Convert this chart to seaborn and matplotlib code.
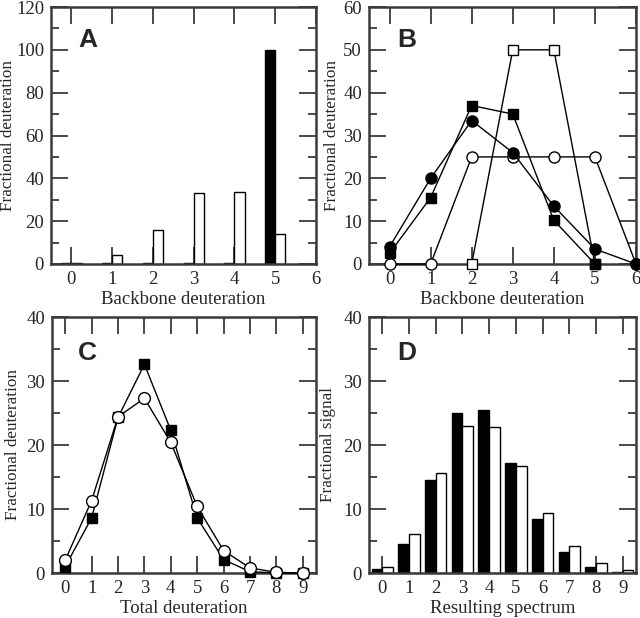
import numpy as np
import pandas as pd
import matplotlib
matplotlib.use("Agg")
import matplotlib.pyplot as plt
from matplotlib.ticker import MultipleLocator
import seaborn as sns

sns.set_theme(style="ticks")
plt.rcParams['font.family'] = ['Liberation Serif', 'DejaVu Serif']

# Panel A: backbone deuteration distributions (bars)
a_x = [0, 1, 2, 3, 4, 5]
a_black = [0.3, 0.3, 0.3, 0.3, 0.3, 100.0]
a_white = [0.3, 4.0, 16.0, 33.0, 33.5, 14.0]

# Panel B: backbone deuteration (lines)
b_x = [0, 1, 2, 3, 4, 5, 6]
b_filled_circle = [4.0, 20.0, 33.5, 26.0, 13.5, 3.5, 0.0]
b_filled_square_x = [0, 1, 2, 3, 4, 5]
b_filled_square = [2.5, 15.5, 37.0, 35.0, 10.2, 0.0]
b_open_circle = [0.0, 0.0, 25.0, 25.0, 25.0, 25.0, 0.0]
b_open_square_x = [2, 3, 4, 5]
b_open_square = [0.0, 50.0, 50.0, 0.0]

# Panel C: total deuteration
c_x = [0, 1, 2, 3, 4, 5, 6, 7, 8, 9]
c_square = [1.0, 8.6, 24.3, 32.6, 22.3, 8.6, 2.1, 0.2, 0.0, 0.0]
c_circle = [2.0, 11.3, 24.4, 27.3, 20.4, 10.4, 3.5, 0.8, 0.1, 0.0]

# Panel D: resulting spectrum
d_x = [0, 1, 2, 3, 4, 5, 6, 7, 8, 9]
d_black = [0.6, 4.6, 14.6, 25.0, 25.4, 17.2, 8.5, 3.3, 1.0, 0.2]
d_white = [1.0, 6.1, 15.7, 22.9, 22.8, 16.7, 9.3, 4.2, 1.5, 0.5]

W, H = 640, 618
fig = plt.figure(figsize=(W / 100, H / 100), dpi=100)

def add_ax(l, t, r, b):
    return fig.add_axes([l / W, 1 - b / H, (r - l) / W, (b - t) / H])

axA = add_ax(51, 7, 316, 264)
axB = add_ax(369, 7, 636, 264)
axC = add_ax(52, 317, 316, 573)
axD = add_ax(369, 317, 636, 573)

SP = '#3a3a3a'
FS = 13.5

def style(ax, xmax, xticks, ymax, ymaj, ymin, xlabel, ylabel, letter, lpos, ylx):
    ax.set_xlim(-0.5, xmax)
    ax.set_ylim(0, ymax)
    ax.set_xticks(xticks)
    ax.set_xticklabels([str(t) for t in xticks])
    ax.yaxis.set_major_locator(MultipleLocator(ymaj))
    ax.yaxis.set_minor_locator(MultipleLocator(ymin))
    ax.tick_params(axis='both', which='major', direction='in', length=12, width=1.3,
                   color=SP, top=True, right=True, labelsize=FS, pad=5)
    ax.tick_params(axis='y', which='minor', direction='in', length=6, width=1.3,
                   color=SP, left=True, right=True)
    ax.tick_params(axis='x', which='minor', bottom=False, top=False)
    for s in ax.spines.values():
        s.set_visible(True)
        s.set_color(SP)
        s.set_linewidth(1.8)
    ax.set_xlabel(xlabel, fontsize=FS, labelpad=2)
    ax.set_ylabel(ylabel, fontsize=12.3)
    ax.yaxis.label.set_va('center')
    ax.yaxis.set_label_coords(ylx, 0.5)
    ax.text(lpos[0], lpos[1], letter, transform=ax.transAxes, ha='center', va='center',
            fontsize=19, fontweight='bold', family=['Liberation Sans', 'DejaVu Sans'])
    ax.grid(False)
    ax.set_facecolor('white')

def bars(ax, x, black, white, width):
    df = pd.DataFrame({
        'x': list(x) + list(x),
        'v': list(black) + list(white),
        's': ['k'] * len(x) + ['w'] * len(x),
    })
    sns.barplot(data=df, x='x', y='v', hue='s', hue_order=['k', 'w'],
                palette=['black', 'white'], edgecolor='black', linewidth=1.0,
                width=width, dodge=True, legend=False, ax=ax, saturation=1,
                native_scale=True, errorbar=None)

def line(ax, x, y, marker, filled, ms):
    sns.lineplot(x=x, y=y, ax=ax, color='black', linewidth=1.0, marker=marker,
                 markersize=ms, markerfacecolor='black' if filled else 'white',
                 markeredgecolor='black', markeredgewidth=1.0, clip_on=False,
                 zorder=3, sort=True, estimator=None)

# A
bars(axA, a_x, a_black, a_white, 0.5)
style(axA, 6, list(range(7)), 120, 20, 10, 'Backbone deuteration', 'Fractional deuteration', 'A', (0.14, 0.87), -0.163)

# B
line(axB, b_open_square_x, b_open_square, 's', False, 7)
line(axB, b_x, b_open_circle, 'o', False, 8)
line(axB, b_filled_square_x, b_filled_square, 's', True, 7)
line(axB, b_x, b_filled_circle, 'o', True, 8)
style(axB, 6, list(range(7)), 60, 10, 5, 'Backbone deuteration', 'Fractional deuteration', 'B', (0.14, 0.87), -0.139)

# C
line(axC, c_x, c_square, 's', True, 7)
line(axC, c_x, c_circle, 'o', False, 8.5)
style(axC, 9.5, list(range(10)), 40, 10, 5, 'Total deuteration', 'Fractional deuteration', 'C', (0.134, 0.86), -0.148)

# D
bars(axD, d_x, d_black, d_white, 0.8)
style(axD, 9.5, list(range(10)), 40, 10, 5, 'Resulting spectrum', 'Fractional signal', 'D', (0.142, 0.86), -0.154)

fig.savefig('out.png', dpi=100)
